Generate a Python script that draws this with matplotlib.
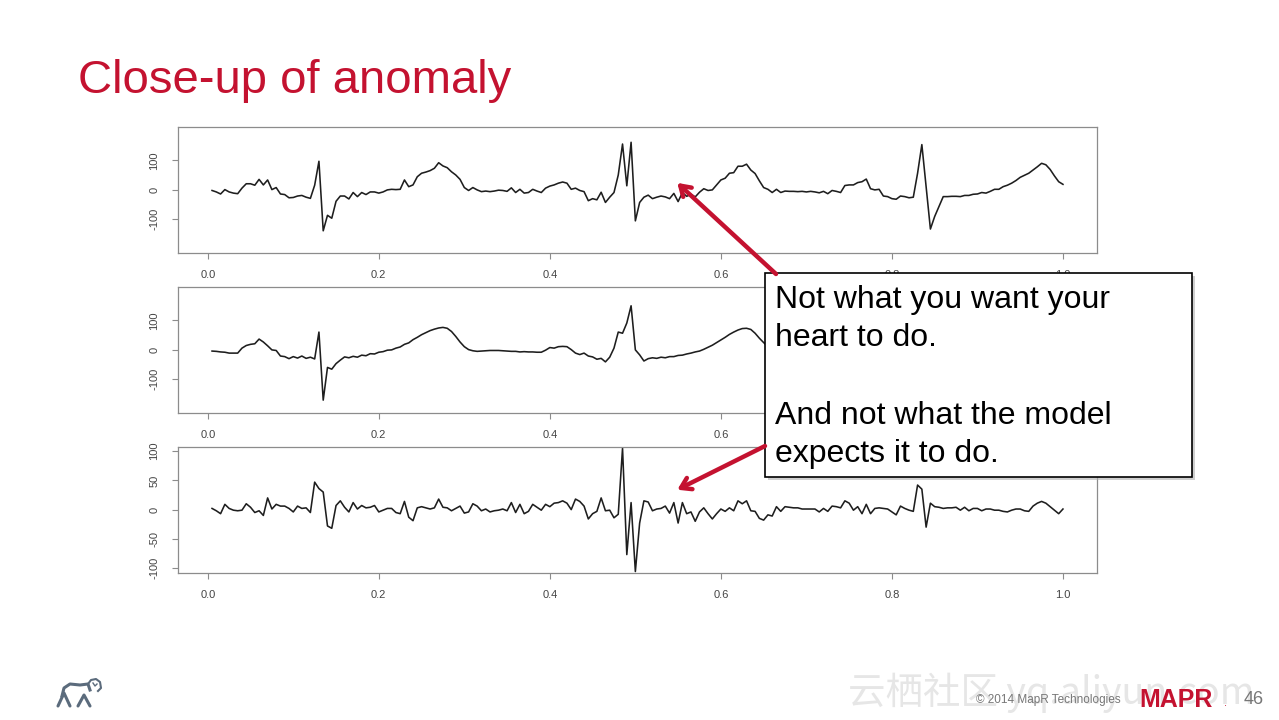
import numpy as np
import matplotlib
matplotlib.use("Agg")
import matplotlib.pyplot as plt
from matplotlib.patches import Rectangle

plt.rcParams["font.family"] = ["Liberation Sans", "DejaVu Sans"]

# ECG close-up: raw signal, model reconstruction, residual (200 samples each)
signal = [
    -3, -8, -15, 0, -8, -12, -14, 5, 20, 20,
    15, 35, 16, 33, 0, 7, -15, -17, -28, -27,
    -22, -20, -26, -30, 15, 97, -141, -88, -98, -40,
    -22, -22, -32, -10, -24, -10, -17, -8, -8, -12,
    -8, -1, 1, 0, 1, 33, 10, 16, 44, 56,
    60, 65, 73, 92, 81, 75, 61, 50, 35, 7,
    -3, 7, -1, -7, -5, -7, -5, -2, -3, -6,
    6, -10, 1, -12, -10, 1, -5, -10, 5, 12,
    16, 22, 26, 22, 1, 5, -3, -7, -38, -31,
    -35, -9, -44, -26, -10, 50, 156, 13, 162, -107,
    -44, -26, -19, -31, -26, -22, -25, -31, -13, -41,
    -10, -23, -16, -25, -9, 3, -3, -1, 16, 33,
    39, 56, 58, 80, 80, 87, 67, 55, 30, 7,
    1, -10, 1, -10, -5, -6, -6, -7, -6, -8,
    -6, -8, -11, -6, -14, -3, -6, -10, 14, 16,
    16, 24, 27, 36, 3, -1, 1, -22, -24, -31,
    -33, -22, -24, -28, -26, 56, 154, 10, -135, -92,
    -58, -24, -24, -23, -23, -24, -20, -20, -16, -15,
    -10, -12, -6, 1, 1, 10, 15, 22, 31, 42,
    49, 56, 67, 78, 90, 85, 69, 47, 27, 18,
]

model = [
    -5, -6, -8, -9, -12, -12, -12, 5, 14, 18,
    20, 36, 26, 13, -1, -3, -22, -24, -31, -24,
    -29, -22, -30, -26, -32, 60, -173, -61, -67, -48,
    -36, -25, -28, -23, -26, -19, -21, -14, -15, -9,
    -7, -2, -1, 5, 9, 18, 23, 34, 42, 51,
    58, 65, 70, 74, 76, 73, 62, 45, 26, 10,
    0, -4, -6, -5, -4, -3, -3, -3, -4, -5,
    -6, -6, -8, -7, -8, -8, -9, -9, -2, 7,
    5, 10, 11, 10, 0, -12, -17, -12, -22, -25,
    -33, -30, -42, -26, 5, 60, 56, 91, 150, -1,
    -18, -39, -31, -28, -30, -26, -28, -24, -24, -20,
    -19, -15, -12, -8, -5, 1, 8, 15, 24, 33,
    42, 52, 60, 67, 72, 73, 69, 56, 39, 24,
    10, 1, -4, -7, -9, -10, -9, -9, -8, -8,
    -8, -8, -8, -8, -10, -9, -10, -10, -2, 5,
    12, 18, 25, 28, 10, -3, -2, -24, -25, -27,
    -24, -28, -26, -27, -23, 14, 119, 40, -146, -97,
    -62, -26, -27, -26, -27, -23, -24, -18, -18, -17,
    -8, -13, -7, 2, 2, 13, 19, 23, 30, 41,
    51, 59, 61, 67, 76, 74, 64, 48, 34, 17,
]

residual = [
    2, -2, -7, 9, 2, -1, -2, -1, 10, 4,
    -5, -2, -10, 20, 1, 9, 6, 6, 2, -4,
    6, 2, 3, -5, 47, 36, 30, -28, -32, 7,
    15, 4, -4, 12, 1, 7, 3, 4, 7, -4,
    -1, 2, 2, -5, -7, 14, -13, -19, 3, 5,
    3, 1, 3, 18, 4, 3, -2, 2, 6, -6,
    -4, 10, 6, -2, 1, -4, -2, -1, 1, -2,
    12, -5, 9, -7, -3, 9, 4, -1, 9, 5,
    11, 12, 15, 11, 0, 18, 14, 6, -16, -7,
    -3, 20, -2, -1, -14, -8, 105, -77, 12, -106,
    -23, 15, 13, -2, 1, 2, 6, -6, 12, -23,
    12, -7, -4, -20, -4, 3, -7, -16, -7, 1,
    -3, 3, -2, 15, 10, 15, -2, -3, -15, -18,
    -9, -11, 5, -3, 5, 4, 3, 3, 1, 1,
    1, 1, -4, 2, -3, 6, 5, 3, 15, 11,
    -1, 5, -7, 9, -7, 2, 3, 2, 1, -4,
    -9, 6, 2, -1, -3, 42, 35, -30, 11, 5,
    4, 2, 3, 3, 4, -1, 4, -2, 2, 2,
    -2, 1, 1, -1, -1, -3, -4, -1, 1, 1,
    -2, -3, 6, 11, 14, 11, 5, -1, -7, 1,
]

x_ticks = [0.0, 0.2, 0.4, 0.6, 0.8, 1.0]
x_ticklabels = ["0.0", "0.2", "0.4", "0.6", "0.8", "1.0"]
ecg_yticks = [-100, 0, 100]
res_yticks = [-100, -50, 0, 50, 100]

callout_lines = ["Not what you want your", "heart to do.", "", "And not what the model", "expects it to do."]

RED = "#c41230"
GRAY = "#8c8c8c"

t = np.arange(1, len(signal) + 1) / len(signal)

fig = plt.figure(figsize=(12.79, 7.2), dpi=100)
fig.patch.set_facecolor("white")

W, H = 1279.0, 720.0


def panel(top_px, bottom_px, y, ylim, yticks):
    ax = fig.add_axes([178 / W, 1 - bottom_px / H, 919 / W, (bottom_px - top_px) / H])
    ax.plot(t, y, color="#1e1e1e", lw=1.15)
    ax.set_xlim(-0.0348, 1.0398)
    ax.set_ylim(*ylim)
    ax.set_xticks(x_ticks)
    ax.set_xticklabels(x_ticklabels)
    ax.set_yticks(yticks)
    ax.set_yticklabels([str(v) for v in yticks], rotation=90, va="center")
    ax.tick_params(axis="both", length=4.5, width=0.8, color=GRAY,
                   labelsize=8, labelcolor="#444444")
    ax.tick_params(axis="x", pad=8)
    ax.tick_params(axis="y", pad=9)
    for s in ax.spines.values():
        s.set_color(GRAY)
        s.set_linewidth(0.9)
    return ax


ax1 = panel(126.5, 252.7, signal, (-216, 216), ecg_yticks)
ax2 = panel(286.5, 412.7, model, (-216, 216), ecg_yticks)
ax3 = panel(446.5, 572.7, residual, (-108, 108), res_yticks)

# overlay in pixel coordinates for slide decorations
ov = fig.add_axes([0, 0, 1, 1], zorder=10)
ov.set_xlim(0, W)
ov.set_ylim(H, 0)
ov.axis("off")
ov.patch.set_alpha(0)

ov.text(78, 93, "Close-up of anomaly", color=RED, fontsize=34, va="baseline", ha="left")

# callout box with shadow
ov.add_patch(Rectangle((768, 276), 427, 204, facecolor="#b0b0b0", edgecolor="none", alpha=0.6))
ov.add_patch(Rectangle((765, 273), 427, 204, facecolor="white", edgecolor="black", lw=1.2))
for k, line in enumerate(callout_lines):
    ov.text(775, 308 + k * 38.5, line, fontsize=23, color="black", va="baseline", ha="left")

arrow_kw = dict(arrowstyle="->,head_length=0.7,head_width=0.45", color=RED, lw=3.2,
                shrinkA=0, shrinkB=0)
ov.annotate("", xy=(0.549, 23), xycoords=ax1.transData, xytext=(776, 274),
            textcoords="data", arrowprops=arrow_kw)
ov.annotate("", xy=(0.549, 34), xycoords=ax3.transData, xytext=(765, 446),
            textcoords="data", arrowprops=arrow_kw)

# footer
ov.text(848, 704, "云栖社区 yq.aliyun.com", fontsize=27, color="#e6e6e6", va="baseline",
        ha="left", family=["Noto Sans CJK SC", "DejaVu Sans"], zorder=1)
ov.text(976, 703, "© 2014 MapR Technologies", fontsize=8.5, color="#777777",
        va="baseline", ha="left", zorder=3)
ov.text(1139, 707, "MAPR", fontsize=18, color=RED, fontweight="bold", va="baseline",
        ha="left", zorder=3)
ov.text(1224, 706, ".", fontsize=8, color=RED, va="baseline", ha="left", zorder=3)
ov.text(1244, 704, "46", fontsize=13, color="#777777", va="baseline", ha="left", zorder=3)

# small elephant logo, drawn roughly
logo = "#5b6b7c"
ov.plot([58, 64, 70], [706, 693, 706], color=logo, lw=2.2, solid_capstyle="round")
ov.plot([78, 84, 90], [706, 695, 706], color=logo, lw=2.2, solid_capstyle="round")
ov.plot([62, 64, 70, 80, 88, 90], [696, 688, 684, 685, 684, 690], color=logo, lw=2.2)
ov.plot([88, 91, 96, 100, 101, 98], [684, 680, 679, 682, 688, 691], color=logo, lw=1.5)
ov.plot([93, 95, 97], [683, 686, 684], color=logo, lw=1.0)

fig.savefig("out.png", dpi=100, facecolor="white")
